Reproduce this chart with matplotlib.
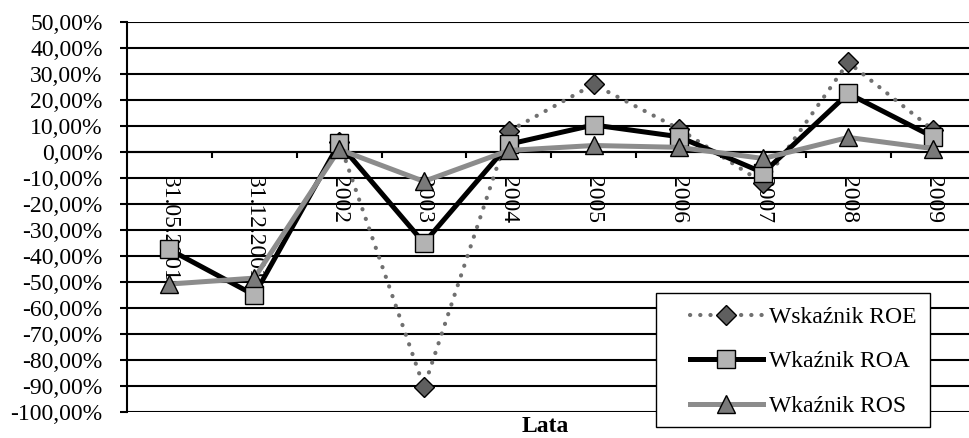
import matplotlib
matplotlib.use('Agg')
import matplotlib.pyplot as plt
from matplotlib.patches import Rectangle
from matplotlib.ticker import FuncFormatter
import numpy as np

lata = ['31.05.2001', '31.12.2001', '2002', '2003', '2004',
        '2005', '2006', '2007', '2008', '2009']
roe = [np.nan, np.nan, 4.0, -90.5, 8.0, 26.0, 9.0, -12.0, 34.5, 8.5]
roa = [-37.5, -55.0, 3.3, -35.0, 3.0, 10.4, 5.9, -8.0, 22.5, 5.8]
ros = [-50.8, -48.5, 1.0, -11.3, 0.6, 2.5, 1.8, -2.5, 5.6, 1.3]
etykiety = ['Wskaźnik ROE', 'Wkaźnik ROA', 'Wkaźnik ROS']

plt.rcParams['font.family'] = ['Liberation Serif', 'DejaVu Serif']
plt.rcParams['font.size'] = 17

W, H = 969, 438
fig = plt.figure(figsize=(W / 100, H / 100), dpi=100)
ax = fig.add_axes([127 / W, (H - 412) / H, (975.5 - 127) / W, 390 / H])

# os X na wysokosci zera (set_position resetuje ticki, wiec najpierw)
ax.spines['bottom'].set_position(('data', 0))
ax.spines['bottom'].set_linewidth(1.5)
ax.spines['left'].set_linewidth(1.5)
ax.spines['top'].set_visible(False)
ax.spines['right'].set_visible(False)

x = np.arange(len(lata))
l1, = ax.plot(x, roe, color='#707070', lw=3, linestyle=(0, (0.05, 2.4)),
              dash_capstyle='round', marker='D', ms=9.8,
              markerfacecolor='#5f5f5f', markeredgecolor='black',
              markeredgewidth=1, zorder=2)
l2, = ax.plot(x, roa, color='black', lw=3.6, marker='s', ms=13,
              markerfacecolor='#b3b3b3', markeredgecolor='black',
              markeredgewidth=1, zorder=3)
l3, = ax.plot(x, ros, color='#8c8c8c', lw=3.6, marker='^', ms=13.5,
              markerfacecolor='#7a7a7a', markeredgecolor='black',
              markeredgewidth=1, zorder=4)

ax.set_xlim(-0.5, len(lata) - 0.5)
ax.set_ylim(-100, 50)
ax.set_yticks(np.arange(-100, 51, 10))
ax.yaxis.set_major_formatter(
    FuncFormatter(lambda v, p: f'{v:.2f}'.replace('.', ',') + '%'))
ax.grid(axis='y', color='black', lw=1.5)
ax.tick_params(axis='y', direction='out', length=5, width=1.5, pad=12.5)

ax.set_xticks(x)
ax.set_xticklabels(lata, rotation=270)
ax.set_xticks(x[:-1] + 0.5, minor=True)
ax.tick_params(axis='x', which='major', length=0, pad=17.5)
ax.tick_params(axis='x', which='minor', direction='out', length=4.5,
               width=1.5)

ax.text(0.4926, (412 - 437.5) / 390, 'Lata', transform=ax.transAxes,
        ha='center', va='bottom', fontweight='bold')

# ramka legendy
ramka = Rectangle((656 / W, (H - 426.7) / H), 274 / W, 134 / H,
                  transform=fig.transFigure, facecolor='white',
                  edgecolor='black', lw=1, zorder=3)
fig.add_artist(ramka)
fig.legend([l1, l2, l3], etykiety, loc='center left',
           bbox_to_anchor=(678 / W, (H - 361.7) / H),
           frameon=False, borderpad=0, handlelength=3.1,
           handletextpad=0.25, labelspacing=0.97)

fig.savefig('out.png', dpi=100)
